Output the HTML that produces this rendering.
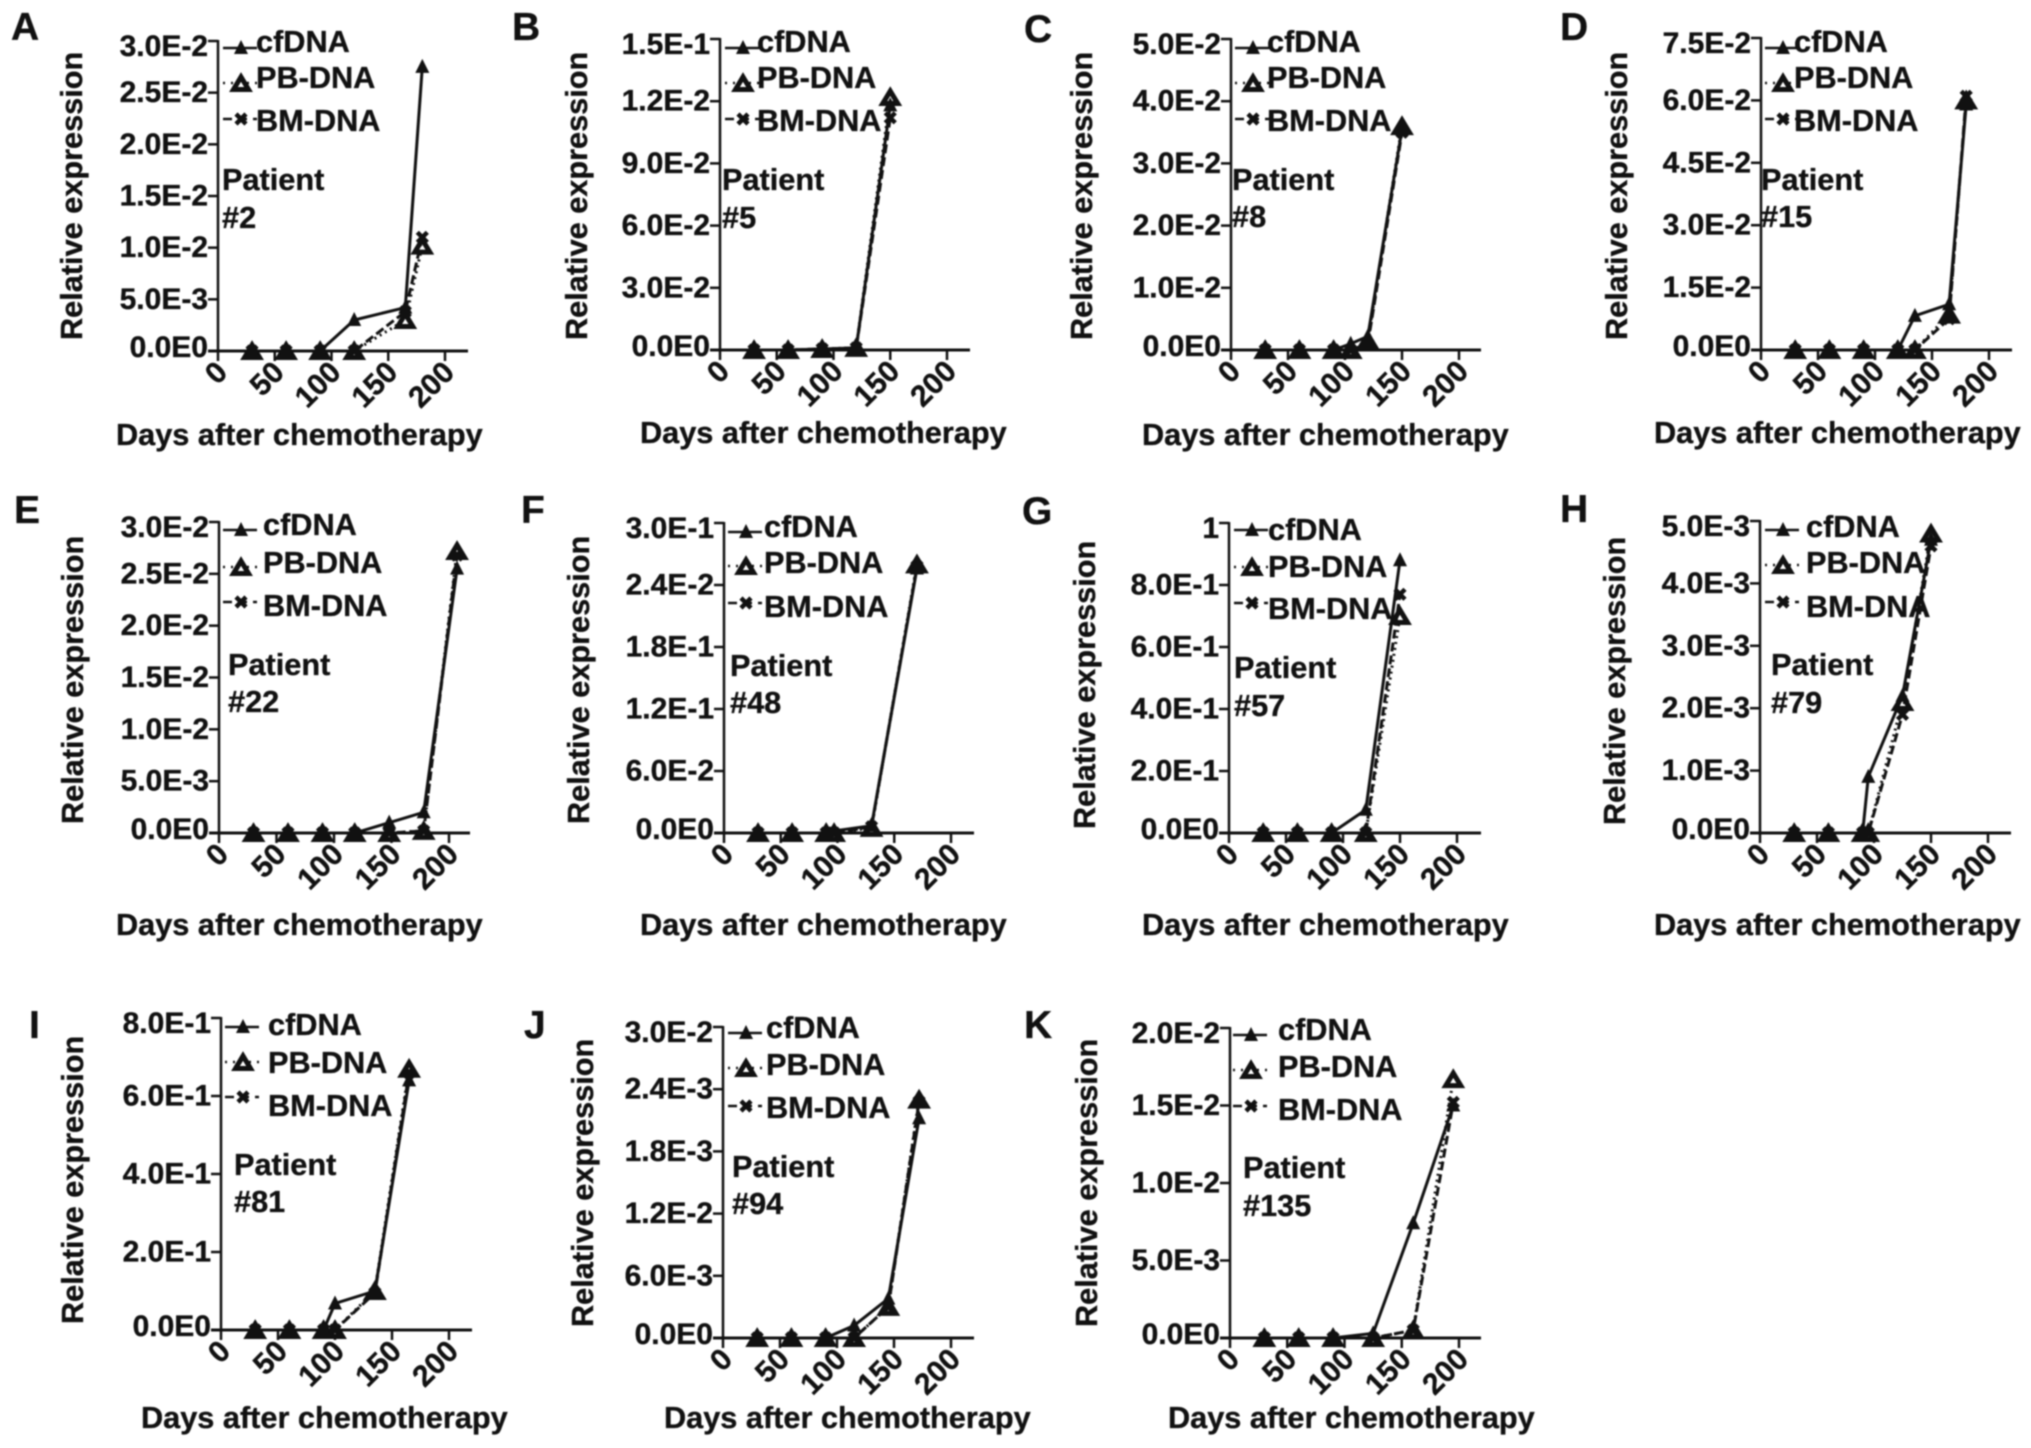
<!DOCTYPE html>
<html lang="en">
<head>
<meta charset="utf-8">
<title>Relative expression after chemotherapy, patient panels</title>
<style>
html,body{margin:0;padding:0;background:#fff;}
svg{display:block;filter:blur(0.8px);}
text{font-family:"Liberation Sans",Arial,sans-serif;font-weight:700;fill:#111;stroke:#111;stroke-width:0.35px;}
</style>
</head>
<body>
<svg id="figure" xmlns="http://www.w3.org/2000/svg" width="2031" height="1448" viewBox="0 0 2031 1448"></svg>
<script>
const xTicks = [0, 50, 100, 150, 200];
const xTickLabels = ["0", "50", "100", "150", "200"];
const legendLabels = ["cfDNA", "PB-DNA", "BM-DNA"];

const daysA = [30, 60, 90, 120, 165, 180];
const cfA = [0, 0, 0, 0.003, 0.0042, 0.0275];
const pbA = [0, 0, 0, 0, 0.003, 0.0102];
const bmA = [0, 0, 0, 0, 0.0038, 0.011];
const yTicksA = [0, 0.005, 0.01, 0.015, 0.02, 0.025, 0.03];
const yLabelsA = ["0.0E0", "5.0E-3", "1.0E-2", "1.5E-2", "2.0E-2", "2.5E-2", "3.0E-2"];

const daysB = [30, 60, 90, 120, 150];
const cfB = [0, 0, 0.0005, 0.001, 0.118];
const pbB = [0, 0, 0.0005, 0.001, 0.122];
const bmB = [0, 0, 0.0005, 0.001, 0.112];
const yTicksB = [0, 0.03, 0.06, 0.09, 0.12, 0.15];
const yLabelsB = ["0.0E0", "3.0E-2", "6.0E-2", "9.0E-2", "1.2E-2", "1.5E-1"];

const daysC = [30, 60, 90, 105, 120, 150];
const cfC = [0, 0, 0, 0.001, 0.0022, 0.0355];
const pbC = [0, 0, 0, 0, 0.0015, 0.036];
const bmC = [0, 0, 0, 0, 0.001, 0.035];
const yTicksC = [0, 0.01, 0.02, 0.03, 0.04, 0.05];
const yLabelsC = ["0.0E0", "1.0E-2", "2.0E-2", "3.0E-2", "4.0E-2", "5.0E-2"];

const daysD = [30, 60, 90, 120, 135, 165, 180];
const cfD = [0, 0, 0, 0, 0.0082, 0.011, 0.059];
const pbD = [0, 0, 0, 0, 0, 0.0085, 0.06];
const bmD = [0, 0, 0, 0, 0, 0.0075, 0.061];
const yTicksD = [0, 0.015, 0.03, 0.045, 0.06, 0.075];
const yLabelsD = ["0.0E0", "1.5E-2", "3.0E-2", "4.5E-2", "6.0E-2", "7.5E-2"];

const daysE = [30, 60, 90, 118, 148, 178, 207];
const cfE = [0, 0, 0, 0, 0.001, 0.002, 0.0255];
const pbE = [0, 0, 0, 0, 0, 0.0002, 0.0272];
const bmE = [0, 0, 0, 0, 0, 0.0002, 0.0268];
const yTicksE = [0, 0.005, 0.01, 0.015, 0.02, 0.025, 0.03];
const yLabelsE = ["0.0E0", "5.0E-3", "1.0E-2", "1.5E-2", "2.0E-2", "2.5E-2", "3.0E-2"];

const daysF = [30, 60, 90, 97, 130, 170];
const cfF = [0, 0, 0, 0.002, 0.007, 0.256];
const pbF = [0, 0, 0, 0, 0.005, 0.26];
const bmF = [0, 0, 0, 0, 0.006, 0.258];
const yTicksF = [0, 0.06, 0.12, 0.18, 0.24, 0.3];
const yLabelsF = ["0.0E0", "6.0E-2", "1.2E-1", "1.8E-1", "2.4E-2", "3.0E-1"];

const daysG = [30, 60, 90, 120, 150];
const cfG = [0, 0, 0, 0.075, 0.88];
const pbG = [0, 0, 0, 0, 0.7];
const bmG = [0, 0, 0, 0, 0.77];
const yTicksG = [0, 0.2, 0.4, 0.6, 0.8, 1];
const yLabelsG = ["0.0E0", "2.0E-1", "4.0E-1", "6.0E-1", "8.0E-1", "1"];

const daysH = [30, 60, 90, 95, 125, 150];
const cfH = [0, 0, 0, 0.0009, 0.0022, 0.0047];
const pbH = [0, 0, 0, 0, 0.0021, 0.0048];
const bmH = [0, 0, 0, 0, 0.0019, 0.0046];
const yTicksH = [0, 0.001, 0.002, 0.003, 0.004, 0.005];
const yLabelsH = ["0.0E0", "1.0E-3", "2.0E-3", "3.0E-3", "4.0E-3", "5.0E-3"];

const daysI = [30, 60, 90, 100, 135, 165];
const cfI = [0, 0, 0, 0.068, 0.1, 0.64];
const pbI = [0, 0, 0, 0, 0.1, 0.67];
const bmI = [0, 0, 0, 0, 0.095, 0.66];
const yTicksI = [0, 0.2, 0.4, 0.6, 0.8];
const yLabelsI = ["0.0E0", "2.0E-1", "4.0E-1", "6.0E-1", "8.0E-1"];

const daysJ = [30, 60, 90, 115, 145, 172];
const cfJ = [0, 0, 0, 0.0012, 0.0038, 0.0212];
const pbJ = [0, 0, 0, 0, 0.003, 0.023];
const bmJ = [0, 0, 0, 0, 0.003, 0.0228];
const yTicksJ = [0, 0.006, 0.012, 0.018, 0.024, 0.03];
const yLabelsJ = ["0.0E0", "6.0E-3", "1.2E-2", "1.8E-3", "2.4E-3", "3.0E-2"];

const daysK = [30, 60, 90, 125, 160, 195];
const cfK = [0, 0, 0, 0.0003, 0.0074, 0.015];
const pbK = [0, 0, 0, 0, 0.0005, 0.0167];
const bmK = [0, 0, 0, 0, 0.0005, 0.0152];
const yTicksK = [0, 0.005, 0.01, 0.015, 0.02];
const yLabelsK = ["0.0E0", "5.0E-3", "1.0E-2", "1.5E-2", "2.0E-2"];

const panelData = {
  A: {patient: "#2", days: daysA, cf: cfA, pb: pbA, bm: bmA, yTicks: yTicksA, yLabels: yLabelsA},
  B: {patient: "#5", days: daysB, cf: cfB, pb: pbB, bm: bmB, yTicks: yTicksB, yLabels: yLabelsB},
  C: {patient: "#8", days: daysC, cf: cfC, pb: pbC, bm: bmC, yTicks: yTicksC, yLabels: yLabelsC},
  D: {patient: "#15", days: daysD, cf: cfD, pb: pbD, bm: bmD, yTicks: yTicksD, yLabels: yLabelsD},
  E: {patient: "#22", days: daysE, cf: cfE, pb: pbE, bm: bmE, yTicks: yTicksE, yLabels: yLabelsE},
  F: {patient: "#48", days: daysF, cf: cfF, pb: pbF, bm: bmF, yTicks: yTicksF, yLabels: yLabelsF},
  G: {patient: "#57", days: daysG, cf: cfG, pb: pbG, bm: bmG, yTicks: yTicksG, yLabels: yLabelsG},
  H: {patient: "#79", days: daysH, cf: cfH, pb: pbH, bm: bmH, yTicks: yTicksH, yLabels: yLabelsH},
  I: {patient: "#81", days: daysI, cf: cfI, pb: pbI, bm: bmI, yTicks: yTicksI, yLabels: yLabelsI},
  J: {patient: "#94", days: daysJ, cf: cfJ, pb: pbJ, bm: bmJ, yTicks: yTicksJ, yLabels: yLabelsJ},
  K: {patient: "#135", days: daysK, cf: cfK, pb: pbK, bm: bmK, yTicks: yTicksK, yLabels: yLabelsK}
};

/* Layout only: plot frame and label anchors for each panel */
const layouts = {
  A: {x0: 218, x200: 445, xEnd: 468, top: 41, bottom: 351, letterX: 11, letterY: 40, legX: 256, legY: [52, 88, 131], mkX: 241, mkY: [48, 83, 119], patX: 222, patY: [190, 228], xtX: 116, xtY: 445, ytX: 82, ytY: 340},
  B: {x0: 720, x200: 947, xEnd: 970, top: 39, bottom: 350, letterX: 512, letterY: 40, legX: 757, legY: [52, 88, 131], mkX: 743, mkY: [48, 83, 119], patX: 722, patY: [190, 228], xtX: 640, xtY: 443, ytX: 587, ytY: 340},
  C: {x0: 1231, x200: 1459, xEnd: 1481, top: 39, bottom: 350, letterX: 1024, letterY: 42, legX: 1267, legY: [52, 88, 131], mkX: 1253, mkY: [48, 83, 119], patX: 1232, patY: [190, 227], xtX: 1142, xtY: 445, ytX: 1092, ytY: 340},
  D: {x0: 1761, x200: 1989, xEnd: 2012, top: 38, bottom: 350, letterX: 1560, letterY: 40, legX: 1794, legY: [52, 88, 131], mkX: 1783, mkY: [48, 83, 119], patX: 1761, patY: [190, 227], xtX: 1654, xtY: 443, ytX: 1627, ytY: 340},
  E: {x0: 219, x200: 449, xEnd: 470, top: 522, bottom: 833, letterX: 14, letterY: 523, legX: 263, legY: [535, 573, 616], mkX: 241, mkY: [530, 567, 602], patX: 228, patY: [675, 712], xtX: 116, xtY: 935, ytX: 83, ytY: 824},
  F: {x0: 724, x200: 951, xEnd: 974, top: 523, bottom: 833, letterX: 521, letterY: 523, legX: 764, legY: [537, 573, 617], mkX: 746, mkY: [532, 566, 603], patX: 730, patY: [676, 713], xtX: 640, xtY: 935, ytX: 589, ytY: 824},
  G: {x0: 1229, x200: 1457, xEnd: 1481, top: 523, bottom: 833, letterX: 1022, letterY: 524, legX: 1268, legY: [540, 577, 619], mkX: 1252, mkY: [530, 567, 603], patX: 1234, patY: [678, 716], xtX: 1142, xtY: 935, ytX: 1095, ytY: 829},
  H: {x0: 1760, x200: 1988, xEnd: 2011, top: 521, bottom: 833, letterX: 1560, letterY: 522, legX: 1806, legY: [537, 573, 617], mkX: 1783, mkY: [530, 565, 602], patX: 1771, patY: [675, 713], xtX: 1654, xtY: 935, ytX: 1625, ytY: 825},
  I: {x0: 221, x200: 449, xEnd: 472, top: 1018, bottom: 1330, letterX: 29, letterY: 1038, legX: 268, legY: [1035, 1073, 1116], mkX: 243, mkY: [1027, 1062, 1097], patX: 234, patY: [1175, 1212], xtX: 141, xtY: 1428, ytX: 83, ytY: 1324},
  J: {x0: 723, x200: 951, xEnd: 974, top: 1027, bottom: 1338, letterX: 524, letterY: 1038, legX: 766, legY: [1038, 1075, 1118], mkX: 746, mkY: [1033, 1068, 1106], patX: 732, patY: [1177, 1214], xtX: 664, xtY: 1428, ytX: 593, ytY: 1327},
  K: {x0: 1230, x200: 1459, xEnd: 1481, top: 1028, bottom: 1338, letterX: 1024, letterY: 1038, legX: 1278, legY: [1040, 1077, 1120], mkX: 1251, mkY: [1035, 1070, 1106], patX: 1243, patY: [1178, 1216], xtX: 1168, xtY: 1428, ytX: 1097, ytY: 1327}
};

const SVG_NS = "http://www.w3.org/2000/svg";
const root = document.getElementById("figure");

function make(tag, attrs, parent, content) {
  const el = document.createElementNS(SVG_NS, tag);
  for (const k in attrs) el.setAttribute(k, attrs[k]);
  if (content !== undefined) el.textContent = content;
  parent.appendChild(el);
  return el;
}

function drawCf(parent, x, y) {
  const el = make("polygon", {points: (x - 7) + "," + (y + 6) + " " + (x + 7) + "," + (y + 6) + " " + x + "," + (y - 8), fill: "#111"}, parent);
  
  
}

function drawPb(parent, x, y) {
  const el = make("polygon", {points: (x - 7.5) + "," + (y + 6.5) + " " + (x + 7.5) + "," + (y + 6.5) + " " + x + "," + (y - 6), fill: "#fff", stroke: "#111", "stroke-width": 5, "stroke-linejoin": "miter"}, parent);
  
  
}

function drawBm(parent, x, y) {
  const el = make("path", {d: "M" + (x - 5) + " " + (y - 5) + "L" + (x + 5) + " " + (y + 5) + "M" + (x + 5) + " " + (y - 5) + "L" + (x - 5) + " " + (y + 5), stroke: "#111", "stroke-width": 4.5, fill: "none"}, parent);
  
  
}

function drawSeries(parent, name, days, values, xs, ys, dash, drawMarker) {
  const g = make("g", {}, parent);
  
  
  const pts = days.map((d, i) => xs(d) + "," + ys(values[i])).join(" ");
  const line = make("polyline", {points: pts, fill: "none", stroke: "#111", "stroke-width": 3, "stroke-dasharray": dash}, g);
  
  
  days.forEach((d, i) => drawMarker(g, xs(d), ys(values[i])));
}

Object.keys(panelData).forEach(function (key) {
  const data = panelData[key];
  const p = layouts[key];
  const yMax = Math.max.apply(null, data.yTicks);
  const xs = d => p.x0 + d * (p.x200 - p.x0) / 200;
  const ys = v => p.bottom - v / yMax * (p.bottom - p.top);

  const g = make("g", {}, root);
  
  

  const letter = make("text", {x: p.letterX, y: p.letterY, "font-size": 39}, g, key);
  
  

  const yTitle = make("text", {transform: "translate(" + p.ytX + "," + p.ytY + ") rotate(-90)", "font-size": 30.7}, g, "Relative expression");
  
  

  const xTitle = make("text", {x: p.xtX, y: p.xtY, "font-size": 30.7}, g, "Days after chemotherapy");
  
  

  const yAxis = make("line", {x1: p.x0, x2: p.x0, y1: p.top - 1, y2: p.bottom + 1, stroke: "#111", "stroke-width": 2.5}, g);
  
  

  const xAxis = make("line", {x1: p.x0 - 10, x2: p.xEnd, y1: p.bottom, y2: p.bottom, stroke: "#111", "stroke-width": 3}, g);
  
  

  data.yTicks.forEach(function (v, i) {
    const tick = make("line", {x1: p.x0 - 10, x2: p.x0, y1: ys(v), y2: ys(v), stroke: "#111", "stroke-width": 2.5}, g);
    
    
    const labelShift = i === 0 ? 6 : (i === data.yTicks.length - 1 ? 15 : 9.5);
    const label = make("text", {x: p.x0 - 10, y: ys(v) + labelShift, "text-anchor": "end", "font-size": 30}, g, data.yLabels[i]);
    
    
  });

  xTicks.forEach(function (d, i) {
    const tick = make("line", {x1: xs(d), x2: xs(d), y1: p.bottom, y2: p.bottom + 10, stroke: "#111", "stroke-width": 2.5}, g);
    
    
    const label = make("text", {transform: "translate(" + (xs(d) + 11) + "," + (p.bottom + 23) + ") rotate(-45)", "text-anchor": "end", "font-size": 30}, g, xTickLabels[i]);
    
    
  });

  const pat1 = make("text", {x: p.patX, y: p.patY[0], "font-size": 30.7}, g, "Patient");
  
  
  const pat2 = make("text", {x: p.patX, y: p.patY[1], "font-size": 30.7}, g, data.patient);
  
  

  drawSeries(g, 'pb-dna-series', data.days, data.pb, xs, ys, "2 4", drawPb);
  drawSeries(g, 'bm-dna-series', data.days, data.bm, xs, ys, "9 4", drawBm);
  drawSeries(g, 'cfdna-series', data.days, data.cf, xs, ys, "none", drawCf);

  const legend = make("g", {}, g);
  
  
  const dashes = ["none", "2 6", "9 6"];
  const markers = [drawCf, drawPb, drawBm];
  legendLabels.forEach(function (name, i) {
    const swatch = make("line", {x1: p.mkX - 18, x2: p.mkX + 16, y1: p.mkY[i], y2: p.mkY[i], stroke: "#111", "stroke-width": 2.5, "stroke-dasharray": dashes[i]}, legend);
    
    
    markers[i](legend, p.mkX, p.mkY[i]);
    const text = make("text", {x: p.legX, y: p.legY[i], "font-size": 30.7}, legend, name);
    
    
  });
});
</script>
</body>
</html>
